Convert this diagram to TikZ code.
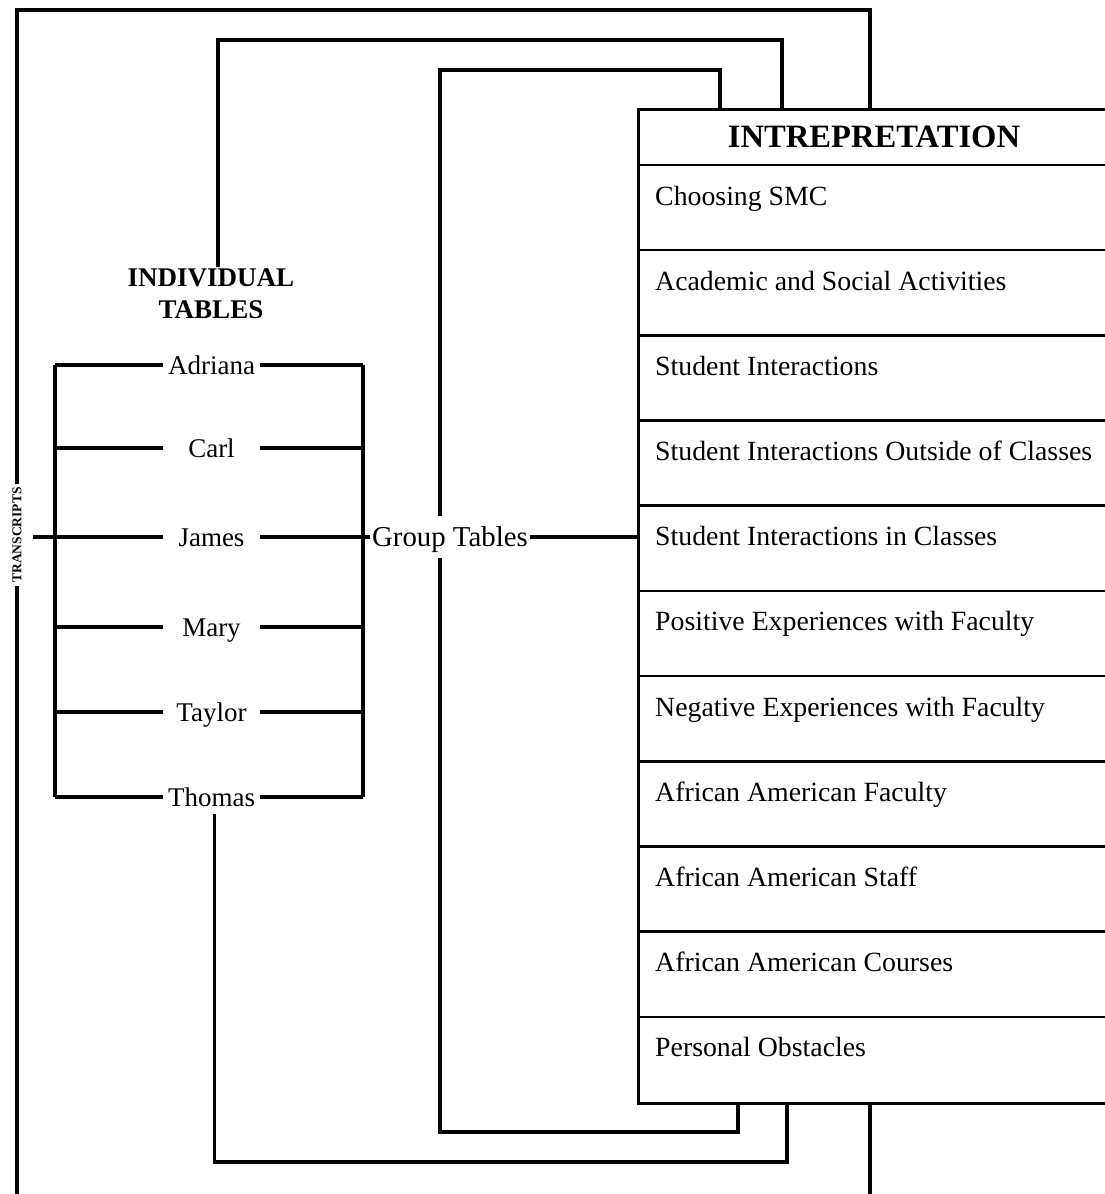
\documentclass[tikz,border=0pt]{standalone}
\usepackage{fontspec}
\setmainfont{Liberation Serif}
\usetikzlibrary{calc}
\begin{document}
\begin{tikzpicture}[x=1pt,y=-1pt,
  conn/.style={line width=3.6pt},
  boxline/.style={line width=2.6pt},
  nm/.style={font=\fontsize{27}{30}\selectfont, minimum width=97pt, inner sep=0pt, text height=18pt, text depth=0pt},
  txt/.style={font=\fontsize{27.8}{30}\selectfont, anchor=west, inner sep=0pt, text height=18pt, text depth=0pt},
  lbl/.style={font=\bfseries\fontsize{27}{32}\selectfont, align=center, inner sep=2pt},
  ttl/.style={font=\bfseries\fontsize{32.6}{36}\selectfont, inner sep=0pt}]
\useasboundingbox (0,0) rectangle (1104,1194);

% interpretation box
\node[draw, boxline, minimum width=480pt, minimum height=994pt, anchor=north west, inner sep=0pt] (interp) at (637,108) {};
\node[ttl] (title) at (874,137) {INTREPRETATION};
\foreach \k in {0,...,10} {
  \draw[boxline] (637,{165+85.18*\k}) -- (1110,{165+85.18*\k});
}
\foreach \t [count=\i] in {Choosing SMC, Academic and Social Activities, Student Interactions, Student Interactions Outside of Classes, Student Interactions in Classes, Positive Experiences with Faculty, Negative Experiences with Faculty, African American Faculty, African American Staff, African American Courses, Personal Obstacles} {
  \node[txt] (row\i) at (655,{196+85.18*(\i-1)}) {\t};
}

% individual tables
\node[lbl] (indiv) at (211,294) {INDIVIDUAL\\TABLES};
\node[nm] (adriana) at (211.5,365) {Adriana};
\node[nm] (carl) at (211.5,448) {Carl};
\node[nm] (james) at (211.5,537) {James};
\node[nm] (mary) at (211.5,627) {Mary};
\node[nm] (taylor) at (211.5,712) {Taylor};
\node[nm] (thomas) at (211.5,797) {Thomas};

\coordinate (bl) at (55,365);
\coordinate (br) at (363,365);
\coordinate (bbl) at (55,797);
\coordinate (bbr) at (363,797);
\draw[conn] (bl) -- (bbl);
\draw[conn] (br) -- (bbr);
\foreach \n in {adriana,carl,mary,taylor,thomas} {
  \draw[conn] (\n.west -| bl) -- (\n.west);
  \draw[conn] (\n.east) -- (\n.east -| br);
}

% group tables
\node[font=\fontsize{28.8}{30}\selectfont, anchor=west, inner xsep=2pt, inner ysep=12pt, text height=18pt, text depth=0pt] (group) at (370,537) {Group Tables};
\coordinate (jl) at (33,537);
\draw[conn] (jl) -- (james.west);
\draw[conn] (james.east) -- (group.west);
\draw[conn] (group.east) -- (group.east -| interp.west);

% transcripts
\node[font=\bfseries\fontsize{13.5}{14}\selectfont, rotate=90, inner xsep=3pt, inner ysep=0pt] (trans) at (17,535) {TRANSCRIPTS};

% connectors to the interpretation box
\coordinate (ix) at (440,0);
\coordinate (otop) at (870,108);
\coordinate (mtop) at (782,108);
\coordinate (itop) at (720,108);
\coordinate (ibot) at (738,1102);
\coordinate (mbot) at (787,1102);
\coordinate (obot) at (870,1102);
\coordinate (oend) at (870,1200);
\coordinate (lend) at (17,1200);

\draw[conn] (trans.east) |- (870,10) -- (otop);
\draw[conn] (trans.west) -- (lend);
\draw[conn] ([xshift=7pt]indiv.north) |- (782,40) -- (mtop);
\draw[conn] (group.north -| ix) |- (720,70) -- (itop);
\draw[conn] (group.south -| ix) |- (738,1132) -- (ibot);
\draw[conn] ($(thomas.south)+(3,8)$) |- (787,1162) -- (mbot);
\draw[conn] (obot) -- (oend);
\end{tikzpicture}
\end{document}
